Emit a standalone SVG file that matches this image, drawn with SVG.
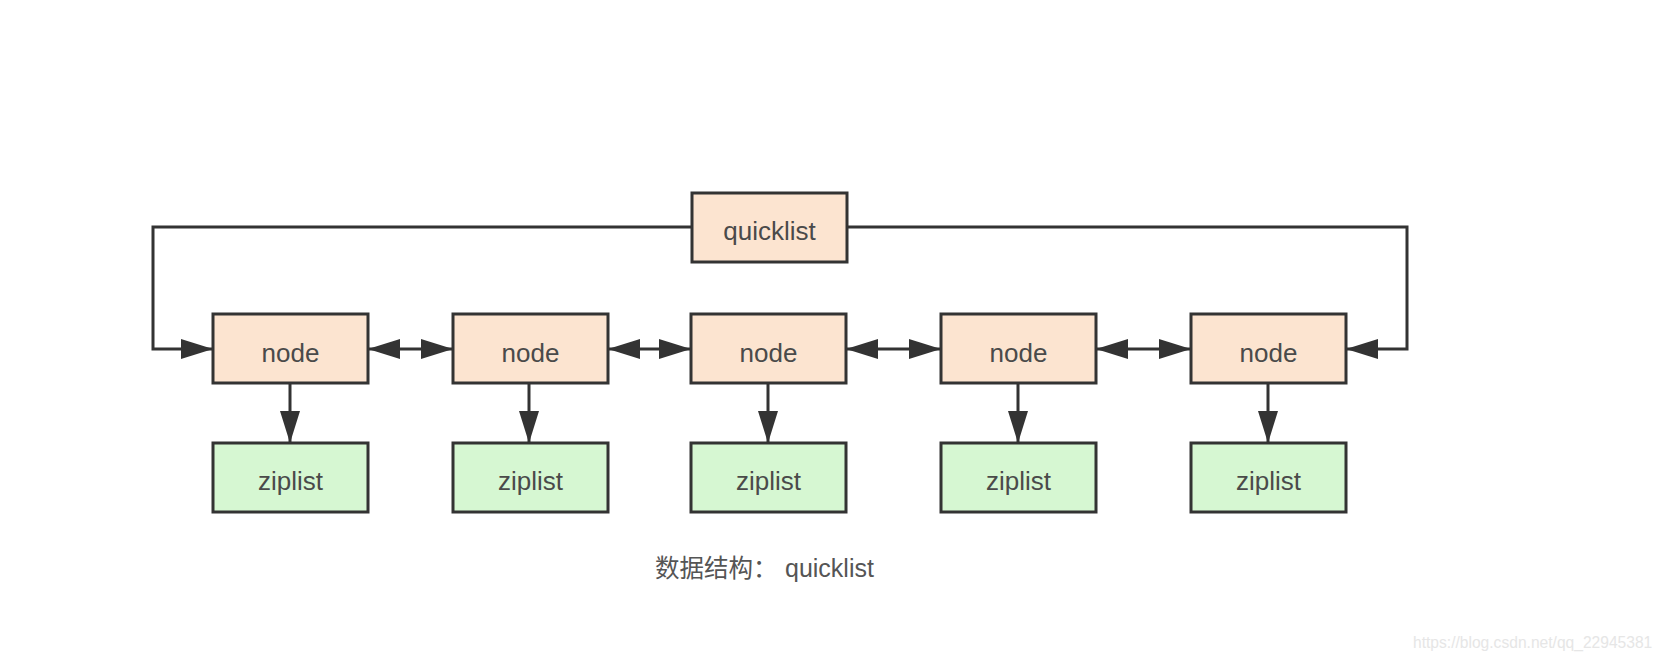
<svg xmlns="http://www.w3.org/2000/svg" width="1664" height="662" viewBox="0 0 1664 662">
<style>
.box{stroke:#333;stroke-width:3}
.nd{fill:#fce4d0}
.zl{fill:#d6f7d2}
.lbl{font-family:"Liberation Sans",Arial,sans-serif;font-size:26px;fill:#4a4a4a;text-anchor:middle}
.ln{fill:none;stroke:#333;stroke-width:3}
</style>
<defs>
<marker id="ah" viewBox="0 0 32 20" refX="32" refY="10" markerWidth="32" markerHeight="20" markerUnits="userSpaceOnUse" orient="auto-start-reverse">
<path d="M0,0 L32,10 L0,20 Z" fill="#333"/>
</marker>
</defs>
<rect width="1664" height="662" fill="#fff"/>
<g id="connectors">
<path class="ln" d="M692,227 H153 V349 H213" marker-end="url(#ah)"/>
<path class="ln" d="M847,227 H1407 V349 H1346" marker-end="url(#ah)"/>
<line class="ln" x1="368" y1="349" x2="453" y2="349" marker-start="url(#ah)" marker-end="url(#ah)"/>
<line class="ln" x1="608" y1="349" x2="691" y2="349" marker-start="url(#ah)" marker-end="url(#ah)"/>
<line class="ln" x1="846" y1="349" x2="941" y2="349" marker-start="url(#ah)" marker-end="url(#ah)"/>
<line class="ln" x1="1096" y1="349" x2="1191" y2="349" marker-start="url(#ah)" marker-end="url(#ah)"/>
<line class="ln" x1="290" y1="383" x2="290" y2="443" marker-end="url(#ah)"/>
<line class="ln" x1="529" y1="383" x2="529" y2="443" marker-end="url(#ah)"/>
<line class="ln" x1="768" y1="383" x2="768" y2="443" marker-end="url(#ah)"/>
<line class="ln" x1="1018" y1="383" x2="1018" y2="443" marker-end="url(#ah)"/>
<line class="ln" x1="1268" y1="383" x2="1268" y2="443" marker-end="url(#ah)"/>
</g>
<g id="quicklist"><rect class="box nd" x="692" y="193" width="155" height="69"/><text class="lbl" x="769.5" y="240">quicklist</text></g>
<g id="node1"><rect class="box nd" x="213" y="314" width="155" height="69"/><text class="lbl" x="290.5" y="362">node</text></g>
<g id="node2"><rect class="box nd" x="453" y="314" width="155" height="69"/><text class="lbl" x="530.5" y="362">node</text></g>
<g id="node3"><rect class="box nd" x="691" y="314" width="155" height="69"/><text class="lbl" x="768.5" y="362">node</text></g>
<g id="node4"><rect class="box nd" x="941" y="314" width="155" height="69"/><text class="lbl" x="1018.5" y="362">node</text></g>
<g id="node5"><rect class="box nd" x="1191" y="314" width="155" height="69"/><text class="lbl" x="1268.5" y="362">node</text></g>
<g id="ziplist1"><rect class="box zl" x="213" y="443" width="155" height="69"/><text class="lbl" x="290.5" y="490">ziplist</text></g>
<g id="ziplist2"><rect class="box zl" x="453" y="443" width="155" height="69"/><text class="lbl" x="530.5" y="490">ziplist</text></g>
<g id="ziplist3"><rect class="box zl" x="691" y="443" width="155" height="69"/><text class="lbl" x="768.5" y="490">ziplist</text></g>
<g id="ziplist4"><rect class="box zl" x="941" y="443" width="155" height="69"/><text class="lbl" x="1018.5" y="490">ziplist</text></g>
<g id="ziplist5"><rect class="box zl" x="1191" y="443" width="155" height="69"/><text class="lbl" x="1268.5" y="490">ziplist</text></g>
<text x="655" y="577" font-family="'Liberation Sans','Noto Sans CJK SC',sans-serif" font-size="24.5" fill="#555">数据结构：<tspan x="785" font-size="25">quicklist</tspan></text>
<text x="1413" y="648" font-family="'Liberation Sans',Arial,sans-serif" font-size="15.6" fill="#e6e6e6">https://blog.csdn.net/qq_22945381</text>
</svg>
